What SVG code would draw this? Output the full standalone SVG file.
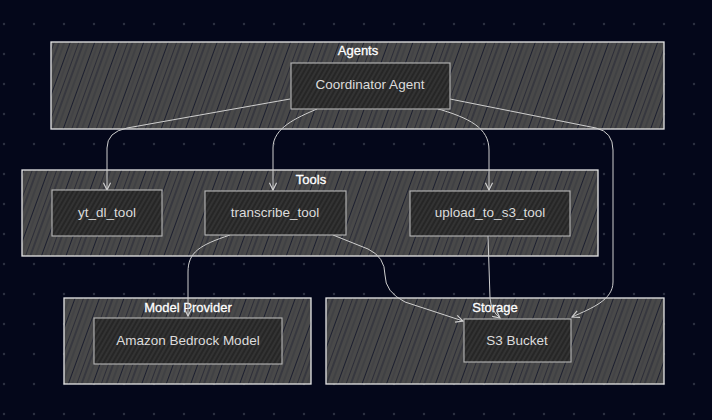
<svg xmlns="http://www.w3.org/2000/svg" width="712" height="420" viewBox="0 0 712 420">
<defs>
  <pattern id="dots" x="0" y="0" width="30" height="30" patternUnits="userSpaceOnUse">
    <circle cx="4" cy="24" r="1.2" fill="#2c3040"/>
  </pattern>
  <pattern id="hatchC" width="23" height="40" patternUnits="userSpaceOnUse" patternTransform="rotate(20)">
    <rect width="23" height="40" fill="#494949"/>
    <line x1="1" y1="0" x2="1" y2="40" stroke="#14172a" stroke-width="0.9" opacity="0.8"/>
    <line x1="6" y1="0" x2="6" y2="40" stroke="#14172a" stroke-width="0.6" opacity="0.6"/>
    <line x1="11.5" y1="0" x2="11.5" y2="40" stroke="#14172a" stroke-width="1" opacity="0.85"/>
    <line x1="15" y1="0" x2="15" y2="40" stroke="#14172a" stroke-width="0.5" opacity="0.5"/>
    <line x1="19.5" y1="0" x2="19.5" y2="40" stroke="#14172a" stroke-width="0.8" opacity="0.7"/>
  </pattern>
  <pattern id="hatchN" width="4" height="10" patternUnits="userSpaceOnUse" patternTransform="rotate(30)">
    <rect width="4" height="10" fill="#262626"/>
    <line x1="1" y1="0" x2="1" y2="10" stroke="#3d3d3d" stroke-width="1.1"/>
  </pattern>
  <marker id="arr" viewBox="0 0 10 10" refX="9" refY="5" markerWidth="9" markerHeight="9" markerUnits="userSpaceOnUse" orient="auto">
    <path d="M1,1 L9,5 L1,9" fill="none" stroke="#d0d0d0" stroke-width="1.3"/>
  </marker>
  <style>
    .cluster { fill: url(#hatchC); stroke: #e6e6e6; stroke-width: 1.3; }
    .node rect { fill: url(#hatchN); stroke: #b8b8b8; stroke-width: 1.1; }
    .ctitle { font-family: "Liberation Sans", Arial, sans-serif; font-size: 13px; fill: #ffffff; stroke: #ffffff; stroke-width: 0.3; text-anchor: middle; }
    .nlabel { font-family: "Liberation Sans", Arial, sans-serif; font-size: 13.5px; fill: #dcdcdc; text-anchor: middle; }
    .edge { fill: none; stroke: #cfcfcf; stroke-width: 1; marker-end: url(#arr); }
  </style>
</defs>
<rect width="712" height="420" fill="#04071a"/>
<rect width="712" height="420" fill="url(#dots)"/>

<g id="cluster-agents">
  <rect class="cluster" x="51" y="42" width="613" height="87"/>
  <text class="ctitle" x="358" y="55">Agents</text>
</g>
<g id="cluster-tools">
  <rect class="cluster" x="22" y="170" width="576" height="86"/>
  <text class="ctitle" x="311" y="184">Tools</text>
</g>
<g id="cluster-model-provider">
  <rect class="cluster" x="64" y="298" width="247" height="86"/>
  <text class="ctitle" x="188" y="312">Model Provider</text>
</g>
<g id="cluster-storage">
  <rect class="cluster" x="326" y="298" width="338" height="86"/>
  <text class="ctitle" x="495" y="312">Storage</text>
</g>

<g id="connectors">
  <path class="edge" d="M290,99 L127,128 Q107,132 107,148 L107,190"/>
  <path class="edge" d="M317,109 C296,118 273,128 273,148 L273,190"/>
  <path class="edge" d="M435,108 C470,118 489,128 489,150 L489,190"/>
  <path class="edge" d="M450,99 L596,128 Q613,132 613,150 L613,282 C613,300 592,308 572,317"/>
  <path class="edge" d="M230,235 C200,245 188,252 188,272 L188,316"/>
  <path class="edge" d="M333,235 L368,249 Q385,257 385,275 Q385,292 405,302 L463,321"/>
  <path class="edge" d="M488,236 L490,298 Q491,311 500,318"/>
</g>

<g id="node-coordinator" class="node">
  <rect x="291" y="63" width="159" height="46"/>
  <text class="nlabel" x="370" y="89">Coordinator Agent</text>
</g>
<g id="node-yt-dl" class="node">
  <rect x="52" y="190" width="110" height="46"/>
  <text class="nlabel" x="107" y="217">yt_dl_tool</text>
</g>
<g id="node-transcribe" class="node">
  <rect x="205" y="191" width="141" height="44"/>
  <text class="nlabel" x="275" y="217">transcribe_tool</text>
</g>
<g id="node-upload" class="node">
  <rect x="410" y="191" width="160" height="45"/>
  <text class="nlabel" x="490" y="217">upload_to_s3_tool</text>
</g>
<g id="node-bedrock" class="node">
  <rect x="94" y="318" width="188" height="46"/>
  <text class="nlabel" x="188" y="345">Amazon Bedrock Model</text>
</g>
<g id="node-s3" class="node">
  <rect x="464" y="319" width="107" height="43"/>
  <text class="nlabel" x="517" y="345">S3 Bucket</text>
</g>
</svg>
